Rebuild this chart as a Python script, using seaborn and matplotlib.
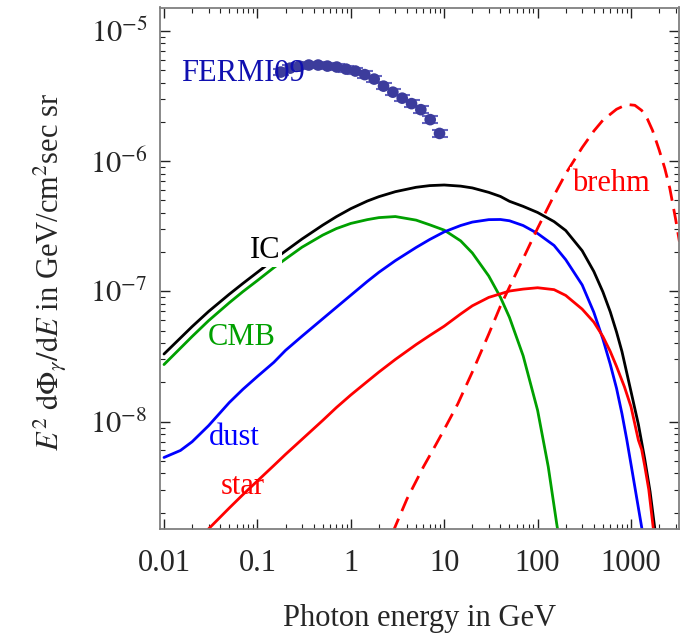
import numpy as np
import pandas as pd
import matplotlib
matplotlib.use("Agg")
import matplotlib.pyplot as plt
import seaborn as sns
from matplotlib.ticker import FixedLocator, FixedFormatter, LogLocator, NullFormatter

# ---------------- data ----------------
ic_E = [0.01, 0.02, 0.03, 0.05, 0.07, 0.1, 0.15, 0.2, 0.3, 0.5, 0.7, 1, 1.5, 2, 3, 5, 7, 10, 15, 20, 30,
        40, 50, 70, 100, 150, 200, 300, 400, 500, 600, 700, 800, 1000, 1200, 1400, 1600, 1800, 1900]
ic_flux = [3.3e-8, 5.36e-8, 7.0e-8, 9.5e-8, 1.15e-7, 1.4e-7, 1.75e-7, 2.04e-7, 2.52e-7, 3.22e-7, 3.74e-7,
           4.31e-7, 4.93e-7, 5.33e-7, 5.82e-7, 6.29e-7, 6.48e-7, 6.55e-7, 6.42e-7, 6.22e-7, 5.75e-7,
           5.35e-7, 4.91e-7, 4.49e-7, 4.03e-7, 3.43e-7, 2.93e-7, 2.05e-7, 1.42e-7, 9.9e-8, 6.95e-8, 4.87e-8,
           3.45e-8, 1.7e-8, 9.5e-9, 5.2e-9, 2.9e-9, 1.5e-9, 1.0e-9]

cmb_E = [0.01, 0.02, 0.03, 0.05, 0.07, 0.1, 0.15, 0.2, 0.3, 0.5, 0.7, 1, 1.5, 2, 3, 5, 7, 10, 15, 20, 30,
         40, 50, 70, 100, 130, 160, 175]
cmb_flux = [2.74e-8, 4.5e-8, 5.95e-8, 8.17e-8, 9.95e-8, 1.21e-7, 1.52e-7, 1.77e-7, 2.18e-7, 2.7e-7, 3.03e-7,
            3.32e-7, 3.55e-7, 3.68e-7, 3.75e-7, 3.52e-7, 3.24e-7, 2.95e-7, 2.44e-7, 1.97e-7, 1.31e-7,
            9.0e-8, 6.3e-8, 3.2e-8, 1.22e-8, 4.5e-9, 1.65e-9, 1.1e-9]

dust_E = [0.01, 0.015, 0.02, 0.03, 0.05, 0.07, 0.1, 0.15, 0.2, 0.3, 0.5, 0.7, 1, 1.5, 2, 3, 5, 7, 10, 15,
          20, 30, 40, 50, 70, 100, 150, 200, 300, 400, 500, 600, 700, 800, 900, 1000, 1150, 1300, 1400]
dust_flux = [5.3e-9, 6.0e-9, 7.0e-9, 9.3e-9, 1.4e-8, 1.77e-8, 2.22e-8, 2.85e-8, 3.52e-8, 4.52e-8, 6.15e-8,
             7.53e-8, 9.33e-8, 1.19e-7, 1.4e-7, 1.72e-7, 2.17e-7, 2.5e-7, 2.86e-7, 3.2e-7,
             3.4e-7, 3.55e-7, 3.56e-7, 3.48e-7, 3.2e-7, 2.78e-7, 2.25e-7, 1.75e-7, 1.12e-7, 6.9e-8, 4.3e-8,
             2.75e-8, 1.8e-8, 1.15e-8, 7.3e-9, 4.7e-9, 2.6e-9, 1.55e-9, 1.1e-9]

star_E = [0.03, 0.05, 0.07, 0.1, 0.15, 0.2, 0.3, 0.5, 0.7, 1, 1.5, 2, 3, 5, 7, 10, 15, 20, 30, 50, 70, 100,
          150, 200, 300, 400, 500, 600, 700, 850, 1000, 1200, 1300, 1400, 1550, 1700, 1800]
star_flux = [1.5e-9, 2.17e-9, 2.75e-9, 3.5e-9, 4.6e-9, 5.6e-9, 7.3e-9, 1.02e-8, 1.28e-8, 1.6e-8, 2.03e-8,
             2.4e-8, 3.0e-8, 3.9e-8, 4.58e-8, 5.4e-8, 6.7e-8, 7.74e-8, 8.98e-8, 1.005e-7, 1.04e-7, 1.065e-7,
             1.03e-7, 9.3e-8, 7.3e-8, 5.8e-8, 4.5e-8, 3.45e-8, 2.65e-8, 1.85e-8, 1.3e-8, 7.2e-9, 6.1e-9,
             4.6e-9, 3.0e-9, 1.7e-9, 1.2e-9]

brehm_E = [2.8, 4, 6, 8, 10, 14, 20, 30, 40, 50, 70, 100, 150, 200, 300, 400, 500, 700, 900, 1100, 1300,
           1500, 1700, 2000, 2300, 2600, 3000, 3300]
brehm_flux = [1.4e-9, 2.55e-9, 4.5e-9, 6.5e-9, 8.7e-9, 1.37e-8, 2.4e-8, 4.7e-8, 7.7e-8, 1.08e-7, 1.78e-7,
              3.05e-7, 5.45e-7, 8.0e-7, 1.27e-6, 1.7e-6, 2.06e-6, 2.5e-6, 2.72e-6, 2.68e-6, 2.45e-6, 2.1e-6,
              1.72e-6, 1.22e-6, 8.8e-7, 6.2e-7, 3.6e-7, 2.4e-7]

fermi_E = [0.178, 0.224, 0.282, 0.355, 0.447, 0.562, 0.708, 0.891, 1.12, 1.41, 1.78, 2.24, 2.82, 3.55, 4.47,
           5.62, 7.08, 8.91]
fermi_flux = [4.82e-6, 5.17e-6, 5.36e-6, 5.46e-6, 5.46e-6, 5.36e-6, 5.27e-6, 5.08e-6, 4.91e-6, 4.61e-6,
              4.26e-6, 3.76e-6, 3.38e-6, 3.04e-6, 2.76e-6, 2.48e-6, 2.08e-6, 1.63e-6]
fermi_relerr = [0.06] * 18

x_ticks = [0.01, 0.1, 1, 10, 100, 1000]
x_ticklabels = ["0.01", "0.1", "1", "10", "100", "1000"]
y_ticks = [1e-8, 1e-7, 1e-6, 1e-5]
y_ticklabels = [r"$10^{-8}$", r"$10^{-7}$", r"$10^{-6}$", r"$10^{-5}$"]

# ---------------- style ----------------
sns.set_theme(style="ticks")
plt.rcParams['font.family'] = ['Liberation Serif', 'DejaVu Serif']
plt.rcParams['mathtext.fontset'] = 'stix'

FS = 22
fig = plt.figure(figsize=(6.92, 6.33), dpi=100)
W, H = 692, 633
L, R, T, B = 160, 679, 7.5, 528.5
ax = fig.add_axes([L / W, 1 - B / H, (R - L) / W, (B - T) / H])
ax.set_xscale('log')
ax.set_yscale('log')

lw = 2.0
common = dict(ax=ax, lw=lw, sort=False, estimator=None, legend=False)
sns.lineplot(x=ic_E, y=ic_flux, color='black', **common)
sns.lineplot(x=cmb_E, y=cmb_flux, color='#00a000', **common)
sns.lineplot(x=dust_E, y=dust_flux, color='#0000ff', **common)
sns.lineplot(x=star_E, y=star_flux, color='#ff0000', **common)
sns.lineplot(x=brehm_E, y=brehm_flux, color='#ff0000', linestyle=(0, (5.5, 3)), **common)

fe = np.array(fermi_E)
ff = np.array(fermi_flux)
rel = np.array(fermi_relerr)
yerr = np.vstack([ff * (1 - 1 / (1 + rel)), ff * rel])
ax.errorbar(fe, ff, yerr=yerr, fmt='none', ecolor='#6464c0', elinewidth=1.5, capsize=5.5, capthick=1.5, zorder=3)
sns.scatterplot(x=fermi_E, y=fermi_flux, ax=ax, color='#3c3c9c', s=70, edgecolor='none', zorder=4, legend=False)

ax.set_xlim(0.00906, 3265)
ax.set_ylim(1.51e-9, 1.51e-5)

# labels on curves
ax.text(0.12, 2.04e-7, "IC", color='black', fontsize=FS, ha='center', va='center', zorder=6,
        bbox=dict(facecolor='white', edgecolor='none', pad=1))
ax.text(0.0673, 4.42e-8, "CMB", color='#00a000', fontsize=FS, ha='center', va='center', zorder=6)
ax.text(0.0559, 7.6e-9, "dust", color='#0000ff', fontsize=FS, ha='center', va='center', zorder=6)
ax.text(0.0689, 3.15e-9, "star", color='#ff0000', fontsize=FS, ha='center', va='center', zorder=6)
ax.text(608, 6.78e-7, "brehm", color='#ff0000', fontsize=FS, ha='center', va='center', zorder=6,
        bbox=dict(facecolor='white', edgecolor='none', pad=1))
ax.text(0.0706, 4.73e-6, "FERMI09", color='#1010b0', fontsize=FS, ha='center', va='center', zorder=6)

# ticks
ax.xaxis.set_major_locator(FixedLocator(x_ticks))
ax.xaxis.set_major_formatter(FixedFormatter(x_ticklabels))
ax.xaxis.set_minor_locator(LogLocator(base=10, subs=np.arange(2, 10), numticks=30))
ax.xaxis.set_minor_formatter(NullFormatter())
ax.yaxis.set_major_locator(FixedLocator(y_ticks))
ax.yaxis.set_major_formatter(FixedFormatter(y_ticklabels))
ax.yaxis.set_minor_locator(LogLocator(base=10, subs=np.arange(2, 10), numticks=30))
ax.yaxis.set_minor_formatter(NullFormatter())

ax.tick_params(which='both', direction='in', top=True, right=True, color='#222222')
ax.tick_params(which='major', length=7, width=1.0, labelsize=FS)
ax.tick_params(which='minor', length=3.5, width=0.8)
ax.tick_params(axis='x', which='major', pad=15)
ax.tick_params(axis='y', which='major', pad=9)
for sp in ax.spines.values():
    sp.set_color('#808080')
    sp.set_linewidth(1.3)
    sp.set_visible(True)

fig.text(419.5 / W, 1 - 626 / H, "Photon energy in GeV", fontsize=FS, ha='center', va='baseline')
fig.text(50 / W, 1 - 272 / H, r"$E^2\ \mathrm{d}\Phi_\gamma/\mathrm{d}E$ in GeV/cm$^2$sec sr",
         fontsize=FS, rotation=90, ha='center', va='center')

fig.savefig("out.png", dpi=100)
